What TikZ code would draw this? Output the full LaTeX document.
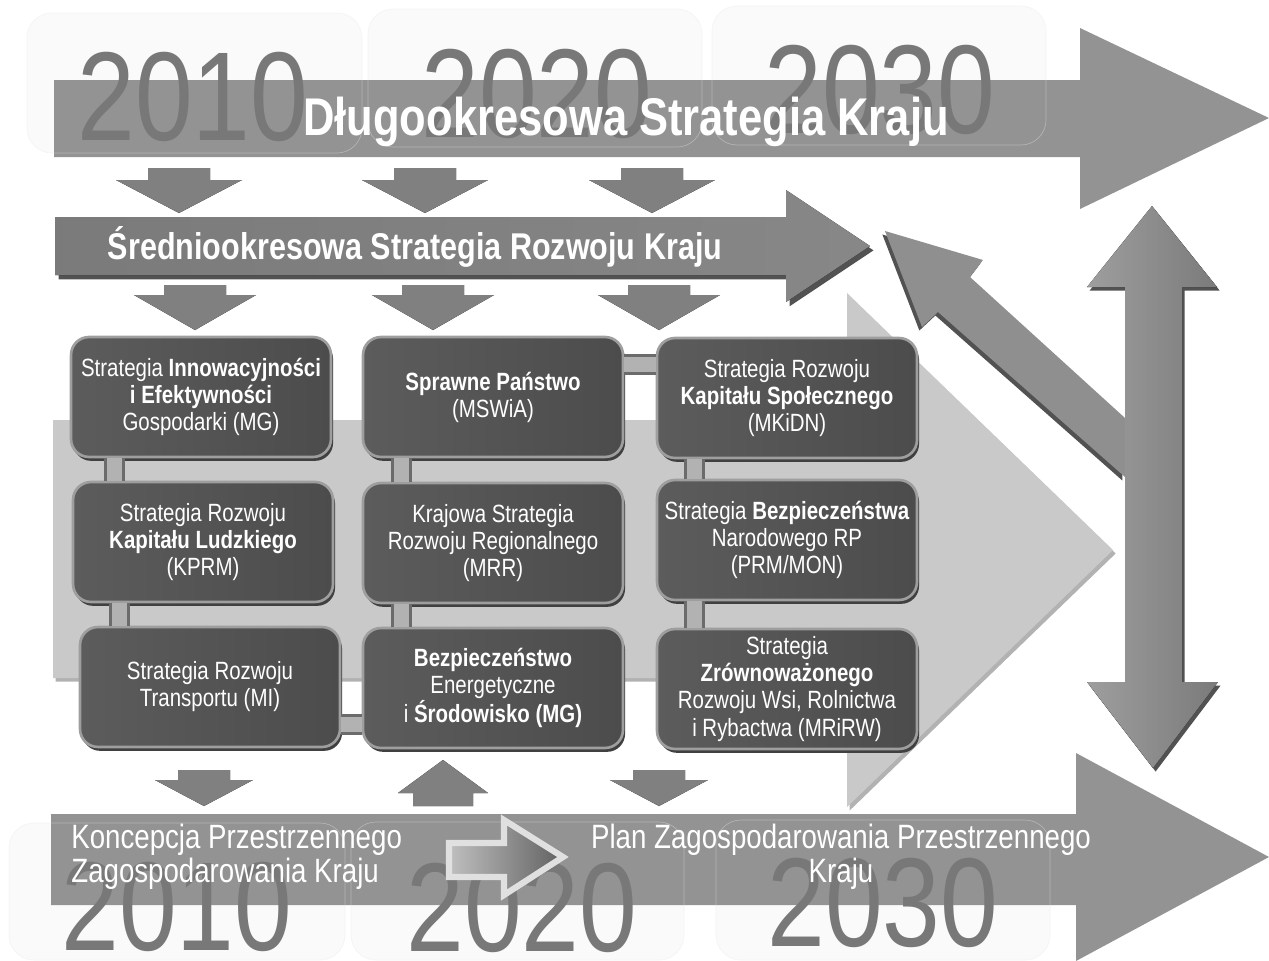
\documentclass[tikz,border=0pt]{standalone}
\usepackage{fontspec}
\setmainfont{Liberation Sans}[FakeStretch=0.82]
\usetikzlibrary{calc,shadows}

\definecolor{bandgray}{HTML}{939393}
\definecolor{yeargray}{HTML}{787878}
\definecolor{panegray}{HTML}{FAFAFA}
\definecolor{chevgray}{HTML}{C9C9C9}
\definecolor{chevedge}{HTML}{B2B2B2}
\definecolor{boxrim}{HTML}{9E9E9E}
\definecolor{boxdark}{HTML}{5C5C5C}
\definecolor{boxlight}{HTML}{ABABAB}
\definecolor{boxdarker}{HTML}{4C4C4C}

\begin{document}
\begin{tikzpicture}[x=0.02cm,y=-0.02cm,
  pane/.style={fill=panegray,draw=black!5,rounded corners=0.5cm},
  paneline/.style={draw=white,opacity=0.3,rounded corners=0.5cm},
  band/.style={fill=bandgray},
  year/.style={text=yeargray,inner sep=0pt,anchor=base,font=\fontsize{72}{72}\selectfont},
  bigtitle/.style={text=white,inner sep=0pt,anchor=base,font=\bfseries\fontsize{30.2}{32}\selectfont},
  midtitle/.style={text=white,inner sep=0pt,anchor=base,font=\bfseries\fontsize{21.2}{24}\selectfont},
  lowtitle/.style={text=white,inner sep=0pt,font=\fontsize{19.2}{19.4}\selectfont},
  smallarrow/.style={left color=black!50,middle color=black!33,right color=black!50},
  midarrow/.style={left color=black!52,middle color=black!36,right color=black!47,
    drop shadow={shadow xshift=2pt,shadow yshift=-2.5pt,fill=black!68,opacity=1}},
  diagarrow/.style={fill=black!44,
    drop shadow={shadow xshift=-1.5pt,shadow yshift=-2pt,fill=black!68,opacity=1}},
  tallarrow/.style={left color=black!38,middle color=black!32,right color=black!52,
    drop shadow={shadow xshift=1.5pt,shadow yshift=-2pt,fill=black!68,opacity=1}},
  chevron/.style={fill=chevgray,
    drop shadow={shadow xshift=1.5pt,shadow yshift=-2pt,fill=chevedge,opacity=1}},
  vbar/.style={draw=black!58,double=black!30,double distance=0.3cm,line width=0.06cm},
  hollow/.style={draw=black!12,line width=3.5pt,miter limit=4,left color=black!25,right color=black!62},
  box/.style={rounded corners=0.36cm,minimum width=5.2cm,minimum height=2.4cm,inner sep=0pt,
    draw=boxrim,line width=1.5pt,left color=boxdark,middle color=boxlight,right color=boxdarker,
    text=white,align=center,font=\fontsize{14.2}{15.4}\selectfont,
    drop shadow={shadow xshift=1.2pt,shadow yshift=-2.2pt,fill=black!75,opacity=1}}]

\useasboundingbox (0,0) rectangle (1269,961);

\path[pane] (27,13) rectangle (362,153);
\path[pane] (368,9) rectangle (702,147);
\path[pane] (712,6) rectangle (1046,145);
\path[pane] (9,823) rectangle (345,960);
\path[pane] (351,822) rectangle (684,960);
\path[pane] (716,820) rectangle (1050,960);

\fill[band] (54,80) -- (1080,80) -- (1080,28) -- (1269,118) -- (1080,209) -- (1080,157) -- (54,157) -- cycle;
\fill[band] (51,814) -- (1076,814) -- (1076,753) -- (1269,857) -- (1076,961) -- (1076,905) -- (51,905) -- cycle;

\draw[paneline] (27,13) rectangle (362,153);
\draw[paneline] (368,9) rectangle (702,147);
\draw[paneline] (712,6) rectangle (1046,145);
\draw[paneline] (9,823) rectangle (345,960);
\draw[paneline] (351,822) rectangle (684,960);
\draw[paneline] (716,820) rectangle (1050,960);

\node[year] (ya) at (193,140) {2010};
\node[year] (yb) at (537,137) {2020};
\node[year] (yc) at (880,133) {2030};
\node[year] (yd) at (177,950) {2010};
\node[year] (ye) at (522,951) {2020};
\node[year] (yf) at (883,946) {2030};

\node[bigtitle] (dsk) at (626,135) {Długookresowa Strategia Kraju};

\foreach \x in {179,425,652}
  \fill[smallarrow] (\x-31,168) -- (\x+31,168) -- (\x+31,180) -- (\x+63,180) -- (\x,213) -- (\x-63,180) -- (\x-31,180) -- cycle;

\fill[midarrow] (55,217) -- (786,217) -- (786,190) -- (870,246) -- (786,302) -- (786,275) -- (55,275) -- cycle;
\node[midtitle] (ssrk) at (415,259) {Średniookresowa Strategia Rozwoju Kraju};

\foreach \x in {195,433,659}
  \fill[smallarrow] (\x-31,285) -- (\x+31,285) -- (\x+31,295) -- (\x+61,295) -- (\x,330) -- (\x-61,295) -- (\x-31,295) -- cycle;

\fill[chevron] (53,420) -- (847,420) -- (847,293) -- (1113,550) -- (847,807) -- (847,678) -- (53,678) -- cycle;

\fill[diagarrow] (885,231) -- (983,260) -- (970,277) -- (1125,418) -- (1125,477) -- (938,312) -- (922,327) -- cycle;
\fill[tallarrow] (1152,206) -- (1217,287) -- (1182,287) -- (1182,682) -- (1218,682) -- (1153,768) -- (1087,682) -- (1125,682) -- (1125,287) -- (1087,287) -- cycle;

\fill[smallarrow] (178,770) -- (230,770) -- (230,780) -- (253,780) -- (204,806) -- (155,780) -- (178,780) -- cycle;
\fill[smallarrow] (443,760) -- (488,793) -- (473,793) -- (473,806) -- (413,806) -- (413,793) -- (398,793) -- cycle;
\fill[smallarrow] (633,770) -- (685,770) -- (685,780) -- (708,780) -- (659,806) -- (610,780) -- (633,780) -- cycle;

\node[box] (b11) at (201,397) {Strategia \textbf{Innowacyjności}\\\textbf{i Efektywności}\\Gospodarki (MG)};
\node[box] (b21) at (203,542) {Strategia Rozwoju\\\textbf{Kapitału Ludzkiego}\\(KPRM)};
\node[box] (b31) at (210,687) {Strategia Rozwoju\\Transportu (MI)};
\node[box] (b12) at (493,397) {\textbf{Sprawne Państwo}\\(MSWiA)};
\node[box] (b22) at (493,543) {Krajowa Strategia\\Rozwoju Regionalnego\\(MRR)};
\node[box] (b32) at (493,688) {\textbf{Bezpieczeństwo}\\Energetyczne\\i \textbf{Środowisko (MG)}};
\node[box] (b13) at (787,398) {Strategia Rozwoju\\\textbf{Kapitału Społecznego}\\(MKiDN)};
\node[box] (b23) at (787,540) {Strategia \textbf{Bezpieczeństwa}\\Narodowego RP\\(PRM/MON)};
\node[box] (b33) at (787,689) {Strategia\\\textbf{Zrównoważonego}\\Rozwoju Wsi, Rolnictwa\\i Rybactwa (MRiRW)};

\draw[vbar] ($(b11.south west)+(45,0)$) -- ($(b11.south west |- b21.north)+(45,0)$);
\draw[vbar] ($(b21.south west)+(48,0)$) -- ($(b21.south west |- b31.north)+(48,0)$);
\draw[vbar] ($(b12.south west)+(40,0)$) -- ($(b12.south west |- b22.north)+(40,0)$);
\draw[vbar] ($(b22.south west)+(40,0)$) -- ($(b22.south west |- b32.north)+(40,0)$);
\draw[vbar] ($(b13.south west)+(39,0)$) -- ($(b13.south west |- b23.north)+(39,0)$);
\draw[vbar] ($(b23.south west)+(39,0)$) -- ($(b23.south west |- b33.north)+(39,0)$);
\draw[vbar] (b12.east |- 0,364) -- (b13.west |- 0,364);
\draw[vbar] (b31.east |- 0,724) -- (b32.west |- 0,724);

\fill[hollow] (449,843) -- (504,843) -- (504,820) -- (563,857) -- (504,895) -- (504,877) -- (449,877) -- cycle;

\node[lowtitle,align=left,anchor=west] (kpzk) at (71,857) {Koncepcja Przestrzennego\\Zagospodarowania Kraju};
\node[lowtitle,align=center] (pzpk) at (841,857) {Plan Zagospodarowania Przestrzennego\\Kraju};

\end{tikzpicture}
\end{document}
